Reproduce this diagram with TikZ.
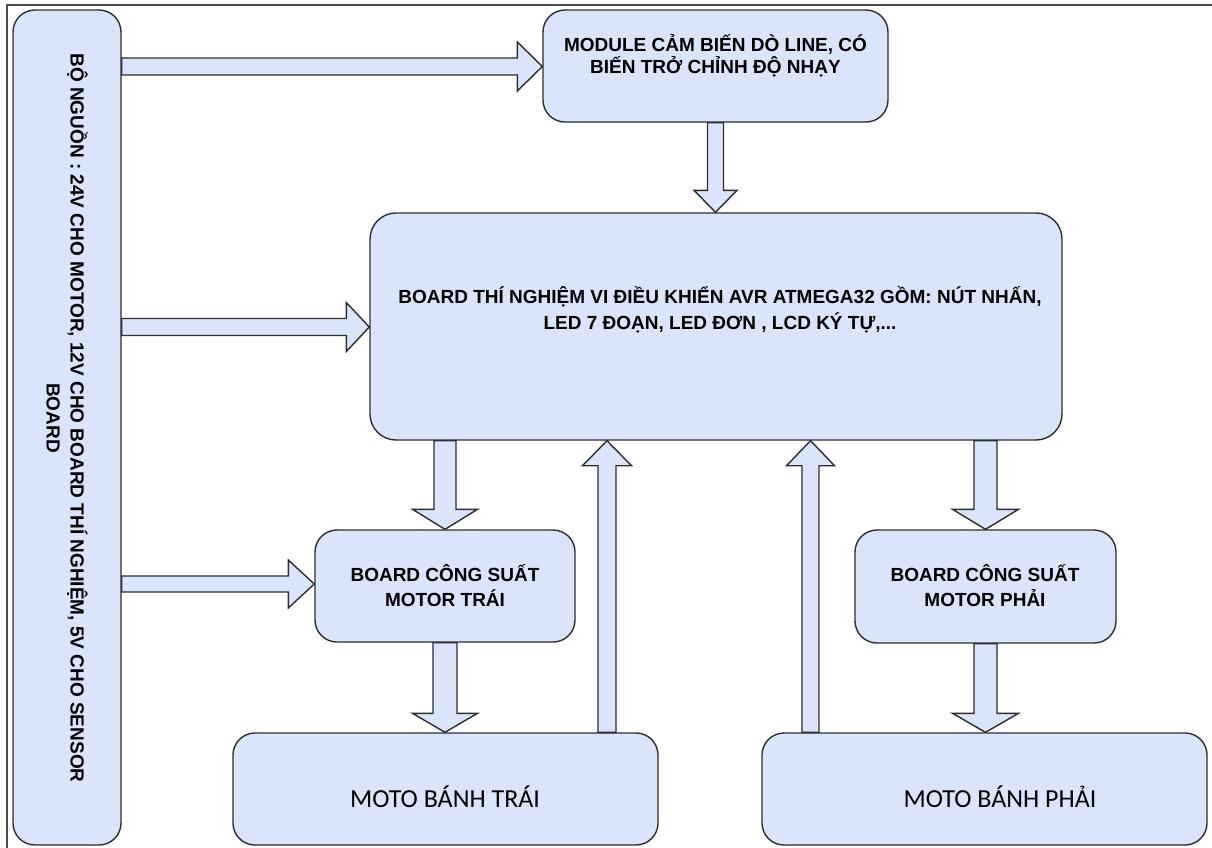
\documentclass[tikz,border=0pt]{standalone}
\usepackage{fontspec}
\setmainfont{Liberation Sans}
\newfontfamily\motofont{Carlito}
\usetikzlibrary{calc}
\definecolor{boxfill}{RGB}{218,229,252}
\definecolor{boxline}{RGB}{45,45,45}
\tikzset{
  blk/.style={draw=boxline, fill=boxfill, line width=1.4pt, rounded corners=22pt, inner sep=0pt},
  btxt/.style={font=\fontsize{19}{24}\selectfont\bfseries, align=center, text=black, inner sep=0pt},
  mtxt/.style={font=\motofont\fontsize{26}{30}\selectfont, text=black, inner sep=0pt},
  barrow/.style={draw=boxline, fill=boxfill, line width=1.4pt, line join=miter},
}
% horizontal block arrow (left to right): from, to, shaft half, head half, head length
\newcommand\harrow[5]{\draw[barrow] let \p1=(#1),\p2=(#2) in
  (\x1,{\y1-#3pt}) -- ({\x2-#5pt},{\y1-#3pt}) -- ({\x2-#5pt},{\y1-#4pt}) -- (\x2,\y1)
  -- ({\x2-#5pt},{\y1+#4pt}) -- ({\x2-#5pt},{\y1+#3pt}) -- (\x1,{\y1+#3pt}) -- cycle;}
% vertical block arrow: from, to, shaft half, head half, head length
\newcommand\varrow[5]{\draw[barrow] let \p1=(#1),\p2=(#2),\n1={sign(\y2-\y1)} in
  ({\x1-#3pt},\y1) -- ({\x1-#3pt},{\y2-(\n1)*#5pt}) -- ({\x1-#4pt},{\y2-(\n1)*#5pt}) -- (\x1,\y2)
  -- ({\x1+#4pt},{\y2-(\n1)*#5pt}) -- ({\x1+#3pt},{\y2-(\n1)*#5pt}) -- ({\x1+#3pt},\y1) -- cycle;}
\begin{document}
\begin{tikzpicture}[x=1pt,y=-1pt]
\useasboundingbox (0,0) rectangle (1212,847);
\fill[white] (0,0) rectangle (1212,847);
% outer frame
\draw[line width=1.8pt, color=black!70] (7,850) -- (7,5) -- (1215,5);

% boxes
\node[blk, minimum width=108pt, minimum height=835pt] (pwr) at (67,427.5) {};
\node[blk, minimum width=345pt, minimum height=112pt] (mod) at (715.5,66) {};
\node[blk, minimum width=692pt, minimum height=227pt, rounded corners=26pt] (main) at (716,326.5) {};
\node[blk, minimum width=260pt, minimum height=112pt] (bcsl) at (445,586) {};
\node[blk, minimum width=261pt, minimum height=113pt] (bcsr) at (985.5,586.5) {};
\node[blk, minimum width=425pt, minimum height=112pt] (motol) at (445.5,789) {};
\node[blk, minimum width=445pt, minimum height=112pt] (motor) at (984.5,789) {};

% texts
\node[btxt, rotate=-90] (pwrtxt) at (67,418) {BỘ NGUỒN : 24V CHO MOTOR, 12V CHO BOARD THÍ NGHIỆM, 5V CHO SENSOR\\BOARD};
\node[btxt, font=\fontsize{19}{22}\selectfont\bfseries] (modtxt) at (715.5,56) {MODULE CẢM BIẾN DÒ LINE, CÓ\\BIẾN TRỞ CHỈNH ĐỘ NHẠY};
\node[btxt, font=\fontsize{19}{26}\selectfont\bfseries] (maintxt) at (720,310) {BOARD THÍ NGHIỆM VI ĐIỀU KHIỂN AVR ATMEGA32 GỒM: NÚT NHẤN,\\LED 7 ĐOẠN, LED ĐƠN , LCD KÝ TỰ,...};
\node[btxt, font=\fontsize{19}{25}\selectfont\bfseries] (bcsltxt) at (445,585.5) {BOARD CÔNG SUẤT\\MOTOR TRÁI};
\node[btxt, font=\fontsize{19}{25}\selectfont\bfseries] (bcsrtxt) at (985,585.5) {BOARD CÔNG SUẤT\\MOTOR PHẢI};
\node[mtxt] (motoltxt) at (445,797) {MOTO BÁNH TRÁI};
\node[mtxt] (motortxt) at (1000,797) {MOTO BÁNH PHẢI};

% connector end points
\coordinate (a1s) at (pwr.east |- 0,66.5);
\coordinate (a1e) at (mod.west |- a1s);
\coordinate (a2s) at (pwr.east |- 0,327);
\coordinate (a2e) at (main.west |- a2s);
\coordinate (a3s) at (pwr.east |- 0,584);
\coordinate (a3e) at (bcsl.west |- a3s);
\coordinate (b1s) at (mod.south);
\coordinate (b1e) at (main.north -| b1s);
\coordinate (b2s) at (main.south -| bcsl.north);
\coordinate (b2e) at (bcsl.north);
\coordinate (b3s) at (bcsl.south);
\coordinate (b3e) at (motol.north -| b3s);
\coordinate (b4s) at (motol.north -| 607,0);
\coordinate (b4e) at (main.south -| b4s);
\coordinate (b5s) at (motor.north -| 810.5,0);
\coordinate (b5e) at (main.south -| b5s);
\coordinate (b6s) at (main.south -| bcsr.north);
\coordinate (b6e) at (bcsr.north);
\coordinate (b7s) at (bcsr.south);
\coordinate (b7e) at (motor.north -| b7s);

% block arrows
\harrow{a1s}{a1e}{8.5}{24.5}{25}
\harrow{a2s}{a2e}{8.5}{24.5}{23}
\harrow{a3s}{a3e}{8}{24}{26}
\varrow{b1s}{b1e}{8}{21.5}{22}
\varrow{b2s}{b2e}{11}{32.5}{20}
\varrow{b3s}{b3e}{12}{32.5}{19}
\varrow{b4s}{b4e}{9}{24.5}{25}
\varrow{b5s}{b5e}{8.5}{24}{25}
\varrow{b6s}{b6e}{11.5}{33}{20}
\varrow{b7s}{b7e}{11.5}{33}{19}
\end{tikzpicture}
\end{document}
